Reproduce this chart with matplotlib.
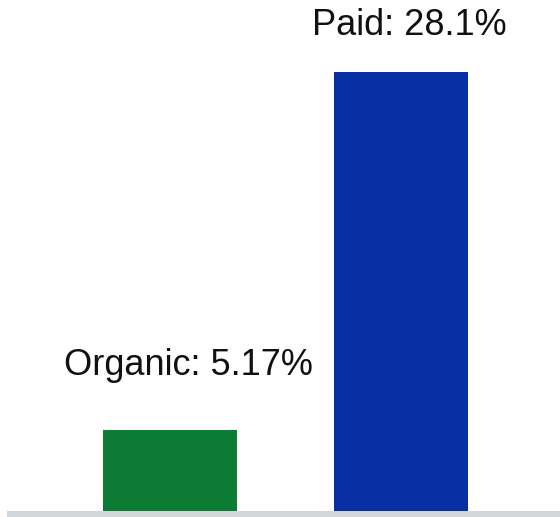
import matplotlib
matplotlib.use("Agg")
import matplotlib.pyplot as plt
from matplotlib.patches import Rectangle

# data
categories = ["Organic", "Paid"]
values = [5.17, 28.1]
value_labels = ["5.17%", "28.1%"]
bar_colors = ["#0c7b34", "#0630a3"]
# label offsets (pixels) relative to bar top centre
label_offsets = [(18, 55), (8, 37)]

plt.rcParams['font.family'] = ['Liberation Sans', 'DejaVu Sans']

fig = plt.figure(figsize=(5.6, 5.17), dpi=100)
ax = fig.add_axes([0, 6 / 517, 1, 511 / 517])

x = list(range(len(categories)))
ax.bar(x, values, width=0.58, color=bar_colors, zorder=2)

for i, (cat, lab) in enumerate(zip(categories, value_labels)):
    ax.annotate(cat + ": " + lab, xy=(x[i], values[i]), xytext=label_offsets[i],
                textcoords='offset pixels', ha='center', va='baseline',
                fontsize=26, color='#111111', annotation_clip=False)

ax.set_xlim(-0.736, 1.688)
ax.set_ylim(0, 32.7)
ax.axis('off')

# gray baseline under the bars
fig.add_artist(Rectangle((7 / 560, 0), 1, 6 / 517, transform=fig.transFigure,
                         color='#d2d6d9', lw=0))

fig.savefig("out.png", dpi=100)
